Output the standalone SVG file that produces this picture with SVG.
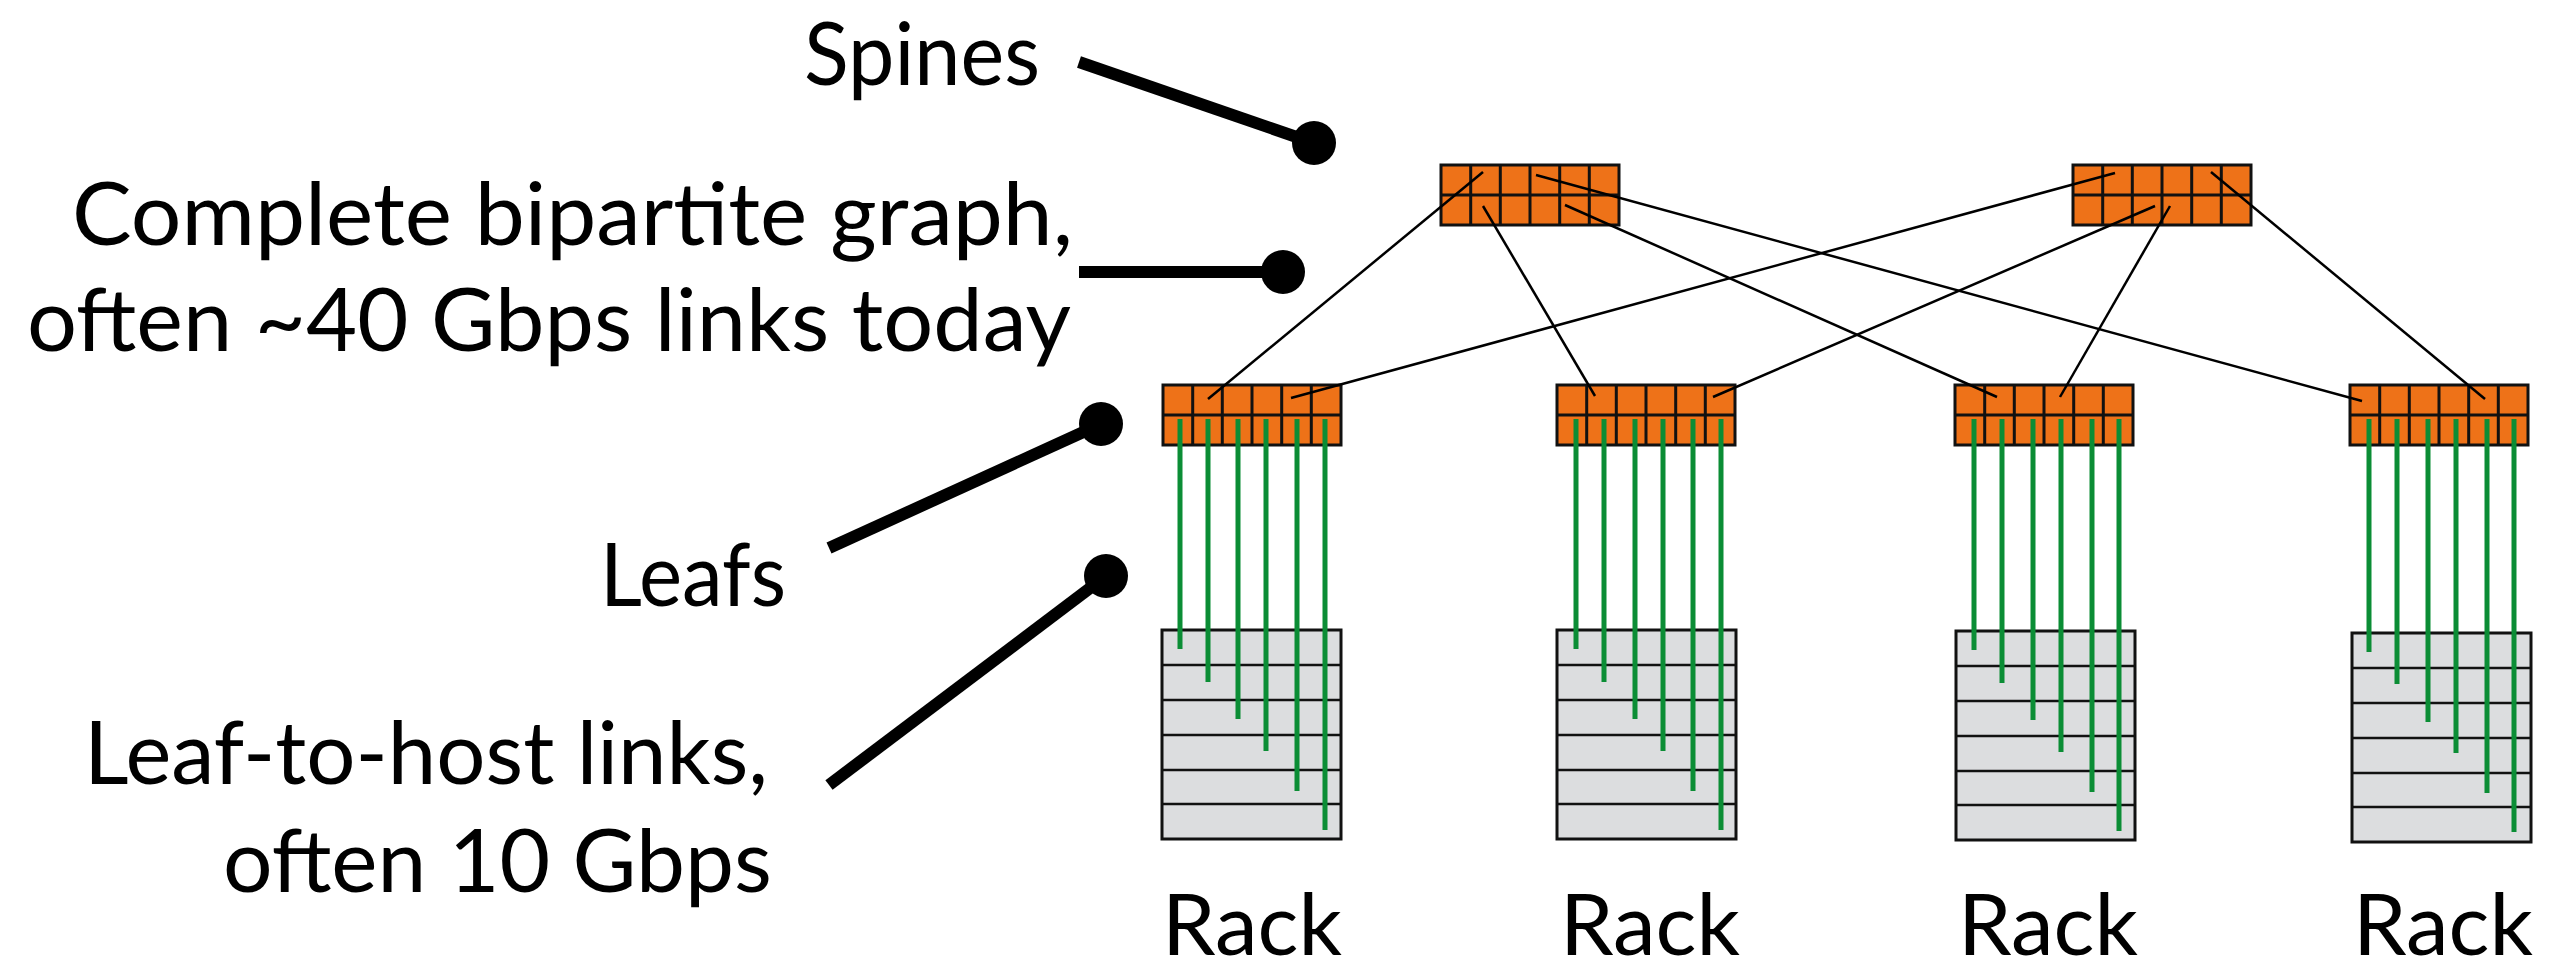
<svg xmlns="http://www.w3.org/2000/svg" xmlns:xlink="http://www.w3.org/1999/xlink" width="2565" height="971" viewBox="0 0 2565 971">
  <style>
    .label { font-family: Lato, "Liberation Sans", sans-serif; font-size: 88px; fill: #000; }
    .rlabel { font-family: Lato, "Liberation Sans", sans-serif; font-size: 86px; fill: #000; }
    .sw { fill: #EE7218; stroke: #111; stroke-width: 3; }
    .grid { stroke: #111; stroke-width: 3; fill: none; }
    .rack { fill: #DCDDDF; stroke: #111; stroke-width: 3; }
    .shelf { stroke: #111; stroke-width: 2.5; }
    .uplink { stroke: #000; stroke-width: 2.5; fill: none; }
    .hostlink { stroke: #0B8D35; stroke-width: 5; fill: none; }
    .pin { stroke: #000; stroke-width: 12; stroke-linecap: butt; fill: none; }
    .pinhead { fill: #000; }
  </style>
  <defs>
    <!-- 6x2 port grid switch -->
    <g id="switch">
      <rect class="sw" x="0" y="0" width="178" height="60"/>
      <path class="grid" d="M29.7 0V60M59.3 0V60M89 0V60M118.7 0V60M148.3 0V60M0 30H178"/>
    </g>
    <!-- rack with six shelves -->
    <g id="rackbox">
      <rect class="rack" x="0" y="0" width="179" height="209"/>
      <path class="shelf" d="M0 35H179M0 70H179M0 105H179M0 140H179M0 174H179"/>
    </g>
  </defs>

  <rect width="2565" height="971" fill="#fff"/>

  <!-- spine switches -->
  <g id="spine1"><use xlink:href="#switch" x="1441" y="165"/></g>
  <g id="spine2"><use xlink:href="#switch" x="2073" y="165"/></g>

  <!-- leaf switches -->
  <g id="leaf1"><use xlink:href="#switch" x="1163" y="385"/></g>
  <g id="leaf2"><use xlink:href="#switch" x="1557" y="385"/></g>
  <g id="leaf3"><use xlink:href="#switch" x="1955" y="385"/></g>
  <g id="leaf4"><use xlink:href="#switch" x="2350" y="385"/></g>

  <!-- racks -->
  <g id="rack1"><use xlink:href="#rackbox" x="1162" y="630"/><text class="rlabel" x="1252" y="955" text-anchor="middle" textLength="180" lengthAdjust="spacingAndGlyphs">Rack</text></g>
  <g id="rack2"><use xlink:href="#rackbox" x="1557" y="630"/><text class="rlabel" x="1650" y="955" text-anchor="middle" textLength="180" lengthAdjust="spacingAndGlyphs">Rack</text></g>
  <g id="rack3"><use xlink:href="#rackbox" x="1956" y="631"/><text class="rlabel" x="2048" y="955" text-anchor="middle" textLength="180" lengthAdjust="spacingAndGlyphs">Rack</text></g>
  <g id="rack4"><use xlink:href="#rackbox" x="2352" y="633"/><text class="rlabel" x="2443" y="955" text-anchor="middle" textLength="180" lengthAdjust="spacingAndGlyphs">Rack</text></g>

  <!-- connectors -->
  <g id="connectors">
    <!-- spine to leaf links -->
    <line class="uplink" x1="1483" y1="172" x2="1208" y2="399"/>
    <line class="uplink" x1="1483" y1="206" x2="1595" y2="396"/>
    <line class="uplink" x1="1565" y1="205" x2="1997" y2="397"/>
    <line class="uplink" x1="1536" y1="175" x2="2362" y2="401"/>
    <line class="uplink" x1="2115" y1="173" x2="1291" y2="398"/>
    <line class="uplink" x1="2155" y1="206" x2="1713" y2="397"/>
    <line class="uplink" x1="2170" y1="206" x2="2060" y2="397"/>
    <line class="uplink" x1="2211" y1="172" x2="2485" y2="399"/>
    <!-- leaf to host links -->
    <path class="hostlink" d="M1180 419V649M1208 419V682M1238 419V719M1266 419V751M1297 419V791M1325 419V830"/>
    <path class="hostlink" d="M1576 419V649M1604 419V682M1635 419V719M1663 419V751M1693 419V791M1721 419V830"/>
    <path class="hostlink" d="M1974 419V650M2002 419V683M2033 419V720M2061 419V752M2092 419V792M2119 419V831"/>
    <path class="hostlink" d="M2369 419V652M2397 419V684M2428 419V722M2456 419V753M2487 419V793M2514 419V832"/>
  </g>

  <!-- callouts -->
  <g id="callout-spines">
    <text class="label" x="804" y="85" font-size="78" textLength="236" lengthAdjust="spacingAndGlyphs">Spines</text>
    <line class="pin" x1="1079" y1="62" x2="1314" y2="143"/>
    <circle class="pinhead" cx="1314" cy="143" r="22"/>
  </g>
  <g id="callout-bipartite">
    <text class="label" x="72" y="245" textLength="1001" lengthAdjust="spacingAndGlyphs">Complete bipartite graph,</text>
    <text class="label" x="27" y="351" textLength="1044" lengthAdjust="spacingAndGlyphs">often ~40 Gbps links today</text>
    <line class="pin" x1="1079" y1="272" x2="1283" y2="272"/>
    <circle class="pinhead" cx="1283" cy="272" r="22"/>
  </g>
  <g id="callout-leafs">
    <text class="label" x="600" y="606" textLength="186" lengthAdjust="spacingAndGlyphs">Leafs</text>
    <line class="pin" x1="829" y1="548" x2="1101" y2="424"/>
    <circle class="pinhead" cx="1101" cy="424" r="22"/>
  </g>
  <g id="callout-hostlinks">
    <text class="label" x="84" y="784" textLength="684" lengthAdjust="spacingAndGlyphs">Leaf-to-host links,</text>
    <text class="label" x="223" y="892" textLength="549" lengthAdjust="spacingAndGlyphs">often 10 Gbps</text>
    <line class="pin" x1="829" y1="785" x2="1106" y2="576"/>
    <circle class="pinhead" cx="1106" cy="576" r="22"/>
  </g>
</svg>
